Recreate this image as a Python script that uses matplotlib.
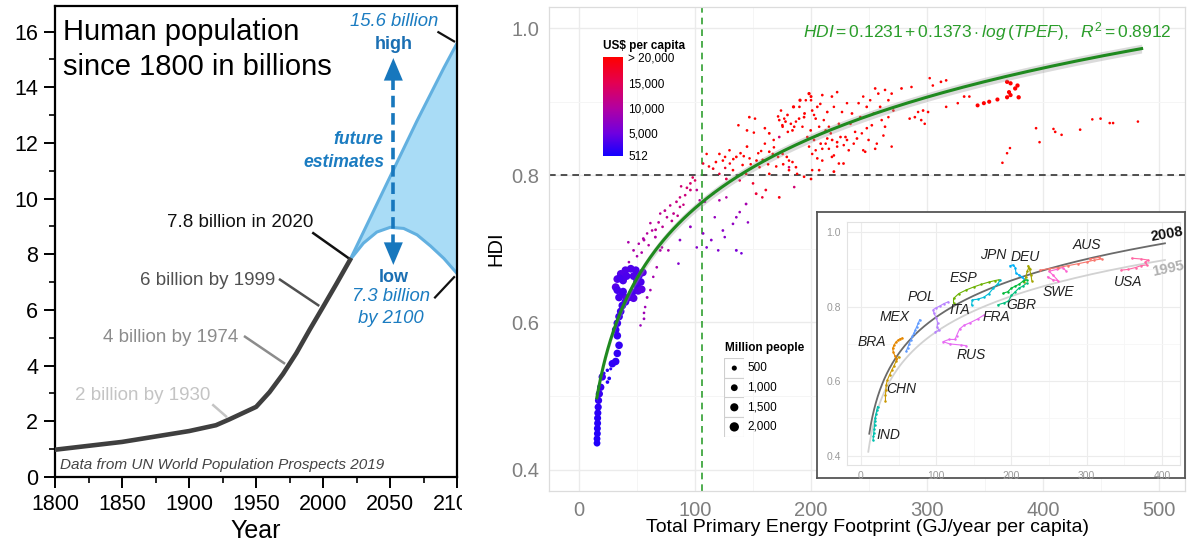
import numpy as np
import matplotlib
matplotlib.use("Agg")
import matplotlib.pyplot as plt
from matplotlib.colors import LinearSegmentedColormap, Normalize
from matplotlib.patches import Rectangle

plt.rcParams['font.family'] = ['Liberation Sans', 'DejaVu Sans']
plt.rcParams['mathtext.fontset'] = 'custom'
plt.rcParams['mathtext.rm'] = 'Liberation Sans'
plt.rcParams['mathtext.it'] = 'Liberation Sans:italic'

W, H = 1192, 550

### LEFT PANEL DATA (world population, billions)
hist_years = [1800, 1850, 1900, 1920, 1930, 1950, 1960, 1970, 1980, 1990, 2000, 2010, 2020]
hist_pop = [0.98, 1.26, 1.65, 1.86, 2.07, 2.52, 3.05, 3.7, 4.45, 5.3, 6.12, 6.95, 7.8]
proj_years = [2020, 2030, 2040, 2050, 2060, 2070, 2080, 2090, 2100]
proj_high = [7.8, 8.8, 9.8, 10.8, 11.8, 12.8, 13.75, 14.7, 15.6]
proj_low = [7.8, 8.4, 8.8, 8.97, 8.93, 8.7, 8.3, 7.85, 7.3]

### RIGHT PANEL DATA (TPEF GJ/yr per capita, HDI, GDP US$ per capita, population millions)
india_x = [15.5, 15.5, 15.8, 15.8, 16.0, 16.0, 16.2, 16.5, 16.8, 17.5, 18.7, 20.0]
india_y = [0.436, 0.442, 0.449, 0.456, 0.463, 0.470, 0.477, 0.485, 0.494, 0.503, 0.512, 0.526]
india_gdp = [1100, 1150, 1200, 1300, 1400, 1500, 1650, 1800, 2000, 2200, 2400, 2700]
india_pop = [1000, 1010, 1030, 1050, 1070, 1090, 1110, 1130, 1150, 1170, 1190, 1210]

china_x = [21.5, 24.4, 27.3, 26.0, 24.5, 28.7, 31.6, 33.0, 34.5, 33.0,
           31.6, 33.0, 34.5, 35.9, 37.3, 40.0, 43.0, 46.0, 50.3, 53.2,
           51.7, 48.9, 44.6, 40.0, 36.0, 33.0, 31.6, 33.0, 34.5, 37.3,
           38.0, 41.0, 47.0, 50.0, 51.0, 47.0, 41.0, 38.0, 35.0, 55.0,
           54.0]
china_y = [0.531, 0.535, 0.537, 0.524, 0.519, 0.544, 0.547, 0.558, 0.569, 0.582,
           0.590, 0.599, 0.608, 0.615, 0.623, 0.628, 0.634, 0.641, 0.648, 0.655,
           0.664, 0.671, 0.673, 0.671, 0.666, 0.659, 0.648, 0.644, 0.634, 0.639,
           0.657, 0.663, 0.663, 0.656, 0.643, 0.633, 0.633, 0.642, 0.660, 0.668,
           0.645]
china_gdp = [1600, 1700, 1800, 1600, 1500, 1800, 1900, 2000, 2100, 2200,
             2300, 2400, 2500, 2500, 2600, 2700, 2800, 2900, 3000, 3100,
             3200, 3300, 3400, 3500, 3600, 3700, 3800, 2900, 3000, 3100,
             3200, 3300, 3400, 3500, 3600, 3700, 3800, 2800, 2900, 3900,
             4000]
china_pop = [120, 150, 90, 200, 180, 1250, 1260, 1270, 1280, 1290,
             1300, 1300, 1310, 1310, 1320, 1320, 1330, 1330, 1340, 1340,
             1350, 1350, 1350, 1350, 1360, 1360, 1360, 1360, 1360, 1360,
             1330, 1330, 1340, 1340, 1340, 1350, 1350, 1300, 1300, 1340,
             1340]

mid_x = [43.0, 47.0, 51.5, 56.0, 63.0, 68.6, 70.0, 74.0, 78.6, 84.0,
         87.0, 91.5, 96.0, 100.0, 96.0, 58.7, 65.8, 71.5, 77.0, 61.5,
         75.8, 81.5, 87.0, 70.0, 67.0, 64.0, 61.5, 58.7, 57.0, 56.0,
         56.0, 53.0, 42.5, 55.4, 50.0, 54.0, 60.0, 66.0, 72.0, 80.0,
         85.0, 90.0, 93.0, 98.0, 88.0,
         87.0, 85.7, 96.0, 101.5, 107.0, 110.0, 114.0, 117.0, 120.0, 124.0,
         125.6, 132.7, 135.6, 138.5, 144.0, 145.6, 135.6, 140.0, 108.5, 104.0,
         101.5, 115.6, 121.0, 127.0,
         185.5, 181.0, 172.6]
mid_y = [0.682, 0.698, 0.707, 0.712, 0.725, 0.736, 0.748, 0.752, 0.759, 0.764,
         0.770, 0.773, 0.789, 0.793, 0.780, 0.721, 0.716, 0.702, 0.698, 0.735,
         0.743, 0.748, 0.757, 0.698, 0.675, 0.662, 0.644, 0.634, 0.621, 0.613,
         0.605, 0.596, 0.709, 0.714, 0.690, 0.695, 0.705, 0.726, 0.730, 0.738,
         0.745, 0.760, 0.783, 0.797, 0.785,
         0.712, 0.680, 0.730, 0.702, 0.721, 0.702, 0.712, 0.743, 0.698, 0.725,
         0.716, 0.734, 0.743, 0.750, 0.761, 0.736, 0.698, 0.694, 0.764, 0.766,
         0.780, 0.775, 0.766, 0.770,
         0.784, 0.811, 0.852]
mid_gdp = [9000, 9500, 9700, 10000, 10500, 10700, 11000, 11300, 11500, 12000,
           12300, 12500, 13500, 14000, 13000, 10300, 10100, 9900, 9800, 10600,
           11100, 11400, 11900, 9500, 9300, 9100, 8900, 8700, 8500, 8500,
           8300, 8100, 9300, 9700, 9400, 9600, 10200, 10800, 10900, 11200,
           11700, 12100, 13300, 14300, 12700,
           7000, 6500, 7500, 6700, 7300, 6300, 6900, 7700, 6100, 7100,
           6700, 7500, 7900, 8300, 9000, 7400, 5700, 5500, 9500, 10000,
           11000, 10300, 9700, 10100,
           13000, 14000, 13500]
mid_pop = [30, 45, 25, 60, 35, 40, 20, 55, 30, 45,
           25, 35, 40, 30, 50, 20, 65, 30, 40, 25,
           35, 45, 30, 55, 40, 20, 35, 60, 25, 30,
           45, 20, 35, 50, 30, 40, 25, 55, 35, 45,
           30, 20, 40, 35, 25,
           45, 30, 60, 25, 40, 35, 50, 20, 30, 45,
           25, 35, 40, 30, 55, 20, 65, 30, 45, 25,
           35, 40, 30, 20,
           30, 25, 40]

rich_x = [107, 115.6, 121, 124, 127, 130, 132.7, 135.6, 138.5, 141,
          144, 147, 150, 152.7, 155.6, 158, 161, 160, 164, 167,
          181, 184, 172.6, 110, 121, 146.8, 151.7, 137.4, 144.8, 150.7,
          160.2, 164, 167.8, 171.6, 175.3, 160.2, 144.8, 129.7, 125.9, 139.2,
          154.5, 164, 158.3, 171.6, 179.1, 184.9, 190.5, 198.3, 194.4, 200,
          172.6, 175.5, 178, 180, 184, 187, 190, 194, 195.5, 200,
          201, 202.6, 204, 205.4, 207, 208, 209.7, 211, 212.6, 214,
          215.4, 217, 218, 219.7, 222.5, 222.5, 224, 226.7, 229.7, 231,
          234, 235.3, 238, 241, 242.5, 245, 246.7, 248, 251, 254,
          255.3, 256.7, 258, 259.6, 262.4, 263.8, 266.7, 269.5, 269.5, 278,
          286.6, 285, 289.5, 292.3, 295, 296.6, 298, 300.9, 302.3, 305,
          312, 316.5, 316.5, 326.5, 332, 336.5, 343.6, 349, 353.6, 360.7,
          175.5, 181, 187, 188, 194, 200, 201, 209.7, 212.6, 218,
          219.7, 224, 228, 201, 205.4, 207, 245, 255.3, 369, 372,
          370.7, 372, 369, 376, 378, 379, 394, 397, 409, 410.5,
          416, 432, 442.5, 449.6, 457.5, 460.4, 481.8, 371.5, 369, 365]
rich_y = [0.816, 0.809, 0.802, 0.820, 0.795, 0.816, 0.807, 0.825, 0.793, 0.814,
          0.802, 0.823, 0.789, 0.775, 0.811, 0.770, 0.780, 0.820, 0.802, 0.829,
          0.807, 0.818, 0.770, 0.829, 0.829, 0.879, 0.877, 0.868, 0.861, 0.858,
          0.864, 0.857, 0.848, 0.880, 0.868, 0.843, 0.839, 0.834, 0.825, 0.830,
          0.830, 0.832, 0.821, 0.825, 0.825, 0.893, 0.902, 0.911, 0.884, 0.907,
          0.875, 0.866, 0.873, 0.859, 0.861, 0.873, 0.893, 0.879, 0.902, 0.902,
          0.888, 0.882, 0.877, 0.893, 0.866, 0.897, 0.909, 0.875, 0.861, 0.886,
          0.866, 0.857, 0.907, 0.893, 0.913, 0.845, 0.870, 0.886, 0.852, 0.898,
          0.870, 0.884, 0.859, 0.898, 0.879, 0.907, 0.832, 0.893, 0.902, 0.884,
          0.918, 0.843, 0.911, 0.893, 0.854, 0.916, 0.902, 0.839, 0.911, 0.918,
          0.920, 0.877, 0.879, 0.886, 0.875, 0.888, 0.870, 0.886, 0.932, 0.922,
          0.927, 0.929, 0.893, 0.898, 0.907, 0.907, 0.895, 0.898, 0.900, 0.903,
          0.829, 0.820, 0.811, 0.802, 0.798, 0.795, 0.807, 0.820, 0.843, 0.825,
          0.805, 0.816, 0.816, 0.829, 0.823, 0.807, 0.834, 0.836, 0.927, 0.925,
          0.913, 0.909, 0.906, 0.918, 0.922, 0.906, 0.864, 0.845, 0.863, 0.859,
          0.855, 0.862, 0.876, 0.877, 0.871, 0.871, 0.873, 0.837, 0.830, 0.817]
rich_gdp = [17000, 18500, 16500, 21000, 15500, 19000, 20000, 22000, 16000, 21500,
            19500, 23000, 17500, 16500, 22500, 17000, 18000, 24000, 21000, 26000,
            25000, 27000, 19000, 20500, 23500, 28000, 30000, 26000, 24000, 25500,
            27000, 29000, 31000, 33000, 30000, 26000, 24500, 23000, 22000, 25000,
            27500, 28500, 26500, 29500, 31500, 34000, 36000, 38000, 35000, 37000,
            30000, 31000, 32000, 29000, 33000, 34000, 36000, 35000, 38000, 39000,
            37000, 36000, 34000, 38000, 33000, 39000, 41000, 35000, 32000, 37000,
            33000, 31000, 40000, 38000, 42000, 30000, 35000, 37000, 32000, 39000,
            35000, 37000, 33000, 40000, 36000, 41000, 29000, 38000, 40000, 37000,
            43000, 31000, 42000, 38000, 33000, 44000, 40000, 30000, 42000, 45000,
            46000, 36000, 37000, 39000, 35000, 38000, 34000, 39000, 48000, 45000,
            47000, 48000, 40000, 41000, 43000, 43500, 42000, 43000, 44000, 45000,
            26000, 25000, 24000, 23000, 22000, 21500, 25500, 27000, 30000, 26000,
            24000, 27000, 28000, 28500, 27500, 25000, 29000, 30000, 46000, 47000,
            45000, 44000, 43000, 48000, 49000, 44500, 33000, 31000, 34000, 33500,
            32000, 35000, 38000, 39000, 37000, 37500, 38000, 30000, 29000, 28000]
rich_pop = [25, 40, 15, 30, 55, 20, 35, 45, 25, 30,
            40, 20, 35, 60, 25, 30, 45, 20, 35, 25,
            40, 30, 50, 20, 35, 45, 25, 30, 40, 20,
            35, 55, 25, 30, 40, 20, 45, 30, 25, 35,
            20, 40, 30, 25, 35, 120, 125, 127, 60, 80,
            35, 25, 40, 30, 45, 20, 35, 55, 25, 30,
            40, 20, 35, 45, 25, 30, 40, 20, 35, 45,
            25, 30, 40, 20, 35, 45, 25, 30, 40, 20,
            35, 45, 25, 30, 40, 20, 35, 45, 25, 30,
            40, 20, 35, 45, 25, 30, 40, 20, 35, 45,
            25, 30, 40, 20, 35, 45, 25, 30, 20, 25,
            40, 35, 30, 25, 45, 30, 260, 270, 275, 280,
            30, 25, 40, 20, 35, 45, 25, 30, 20, 35,
            60, 30, 45, 20, 35, 40, 25, 30, 300, 305,
            290, 295, 285, 310, 315, 320, 30, 25, 20, 35,
            25, 30, 20, 35, 25, 30, 20, 15, 20, 25]

# second batch of high-income points (dense area 100-270 GJ)
rich2_x = [174.1, 176.9, 179.7, 182.6, 185.5, 189.7, 192.6, 196.8, 198.3, 199.7,
           202.6, 204.0, 205.4, 208.3, 209.7, 214.0, 215.4, 218.2, 219.7, 222.5,
           225.4, 228.2, 231.0, 232.5, 236.8, 239.6, 243.8, 248.1, 249.6, 252.4,
           260.9, 263.8, 266.7, 271.0, 112.0, 118.0, 126.0, 133.0, 142.0, 148.0,
           153.0, 157.0, 163.0, 168.0, 170.0, 176.0]
rich2_y = [0.888, 0.877, 0.882, 0.870, 0.866, 0.877, 0.866, 0.852, 0.839, 0.861,
           0.848, 0.834, 0.854, 0.843, 0.836, 0.850, 0.836, 0.848, 0.827, 0.839,
           0.852, 0.841, 0.848, 0.834, 0.843, 0.850, 0.857, 0.864, 0.848, 0.868,
           0.875, 0.866, 0.879, 0.888, 0.812, 0.818, 0.810, 0.822, 0.826, 0.815,
           0.820, 0.833, 0.815, 0.838, 0.812, 0.815]
rich2_gdp = [30000, 32000, 28000, 34000, 31000, 36000, 29000, 33000, 27000, 35000,
             30000, 28000, 34000, 31000, 29000, 33000, 30000, 32000, 27000, 31000,
             34000, 30000, 33000, 28000, 32000, 35000, 36000, 38000, 31000, 37000,
             40000, 38000, 41000, 42000, 19000, 21000, 18000, 22000, 24000, 20000,
             23000, 25000, 21000, 26000, 22000, 24000]
rich2_pop = [30, 20, 45, 25, 35, 40, 20, 30, 25, 45,
             35, 20, 30, 40, 25, 35, 20, 45, 30, 25,
             40, 20, 35, 30, 25, 45, 20, 35, 30, 40,
             25, 35, 20, 30, 25, 40, 20, 35, 30, 25,
             45, 20, 35, 25, 30, 40]

# log fit printed on the chart, confidence band half-width
fit_intercept = 0.1231
fit_slope = 0.1373
fit_range = [15.3, 485]
fit_se = 0.006
hdi_threshold = 0.8
tpef_threshold = 106

cbar_ticks = [512, 5000, 10000, 15000, 20000]
cbar_labels = ['512', '5,000', '10,000', '15,000', '> 20,000']
legend_pops = [500, 1000, 1500, 2000]
legend_labels = ['500', '1,000', '1,500', '2,000']

### INSET DATA (country trajectories 1995-2008)
inset_codes = ['IND', 'CHN', 'BRA', 'MEX', 'POL', 'ESP', 'ITA', 'JPN', 'DEU', 'GBR',
               'FRA', 'SWE', 'AUS', 'USA', 'RUS']
inset_x = [[16, 16.5, 17, 17.5, 18, 18.5, 19, 20, 21, 22],
           [32.5, 32.5, 33, 33.5, 35, 38, 41, 44, 47, 50],
           [47, 45, 43, 42, 44, 46, 49, 52, 55],
           [60, 62, 64, 66, 68, 70, 72, 74, 76, 78],
           [99, 104, 101, 102, 100, 97, 96, 100, 105, 110, 116],
           [123, 123, 130, 140, 150, 160, 170, 178, 183],
           [147, 148, 155, 163, 170, 176, 182, 185],
           [198, 202, 205, 206, 210, 214, 216],
           [217, 219, 221, 223, 222, 224, 226, 227],
           [182, 190, 196, 200, 205, 210, 215, 220],
           [189, 195, 200, 205, 210, 215, 220],
           [248, 255, 262, 255, 250, 260, 268, 272],
           [238, 250, 262, 275, 288, 300, 310, 320, 316, 304],
           [346, 355, 365, 372, 380, 378, 382, 372, 360],
           [140, 133, 118, 109, 117, 125, 127, 131, 137, 145, 155, 163]]
inset_y = [[0.442, 0.452, 0.462, 0.472, 0.482, 0.492, 0.502, 0.512, 0.522, 0.532],
           [0.548, 0.562, 0.576, 0.59, 0.603, 0.617, 0.63, 0.642, 0.655, 0.665],
           [0.66, 0.668, 0.678, 0.688, 0.697, 0.704, 0.71, 0.714, 0.716],
           [0.68, 0.69, 0.70, 0.71, 0.72, 0.728, 0.737, 0.746, 0.755, 0.765],
           [0.733, 0.736, 0.745, 0.757, 0.77, 0.782, 0.792, 0.797, 0.802, 0.808, 0.813],
           [0.81, 0.822, 0.835, 0.845, 0.853, 0.86, 0.866, 0.87, 0.872],
           [0.805, 0.818, 0.82, 0.825, 0.835, 0.85, 0.862, 0.871],
           [0.91, 0.912, 0.905, 0.89, 0.885, 0.88, 0.875],
           [0.865, 0.88, 0.895, 0.905, 0.91, 0.90, 0.885, 0.87],
           [0.805, 0.81, 0.815, 0.83, 0.84, 0.85, 0.855, 0.863],
           [0.836, 0.84, 0.85, 0.855, 0.86, 0.868, 0.872],
           [0.88, 0.872, 0.87, 0.885, 0.895, 0.90, 0.905, 0.897],
           [0.898, 0.902, 0.905, 0.91, 0.915, 0.92, 0.925, 0.928, 0.932, 0.928],
           [0.898, 0.90, 0.905, 0.91, 0.912, 0.92, 0.925, 0.928, 0.93],
           [0.695, 0.697, 0.70, 0.706, 0.712, 0.712, 0.722, 0.74, 0.75, 0.757, 0.767, 0.777]]
inset_colors = ['#00C0AF', '#C99800', '#E58700', '#619CFF', '#B983FF', '#6BB100', '#00BCD8',
                '#00B0F6', '#A3A500', '#00BF7D', '#00BA38', '#FD61D1', '#F8766D', '#FF67A4', '#E76BF3']
inset_label_x = [36.3, 54, 14.2, 45.2, 80.6, 135.9, 131.5, 175.7, 217.8, 213.4, 180.2, 262, 299.7, 355, 147]
inset_label_y = [0.456, 0.578, 0.706, 0.773, 0.827, 0.877, 0.791, 0.939, 0.934, 0.805, 0.772, 0.84, 0.966, 0.865, 0.67]
# year fits in the inset: (intercept, slope, x range)
fit2008 = (0.119, 0.1418, [11, 404])
fit1995 = (0.097, 0.138, [9.7, 404])


def px_rect(x0, y0, x1, y1):
    # pixel box (top-left origin) -> figure fraction rect
    return [x0 / W, 1 - y1 / H, (x1 - x0) / W, (y1 - y0) / H]


def pop_to_size(p):
    return 3 + 0.021 * np.asarray(p, dtype=float)


fig = plt.figure(figsize=(W / 100, H / 100), dpi=100)

### LEFT PANEL
axL = fig.add_axes(px_rect(55, 6.3, 457.3, 477))
axL.fill_between(proj_years, proj_low, proj_high, color='#a9dcf6', lw=0, zorder=1)
axL.plot(proj_years, proj_high, color='#62b0e0', lw=2.2, zorder=2)
axL.plot(proj_years, proj_low, color='#62b0e0', lw=2.2, zorder=2)
axL.plot(hist_years, hist_pop, color='#3f3f3f', lw=3.3, zorder=3, solid_joinstyle='round')
axL.set_xlim(1800, 2100)
axL.set_ylim(0, 16.91)
axL.set_xticks(range(1800, 2101, 50))
axL.set_xticks(range(1825, 2100, 50), minor=True)
axL.set_yticks(range(0, 17, 2))
axL.set_yticks(range(1, 17, 2), minor=True)
axL.tick_params(which='major', direction='out', length=8, width=1.4, labelsize=15.5, pad=4)
axL.tick_params(which='minor', direction='out', length=4.5, width=1.2)
for sp in axL.spines.values():
    sp.set_linewidth(1.6)
axL.set_xlabel('Year', fontsize=18, labelpad=3)

axL.text(1806.2, 16.0, 'Human population', fontsize=21, va='center', ha='left')
axL.text(1806.2, 14.74, 'since 1800 in billions', fontsize=21, va='center', ha='left')

axL.text(1992.6, 9.13, '7.8 billion in 2020', fontsize=13.5, color='#111111', ha='right', va='center')
axL.plot([1992.6, 2018.7], [8.76, 7.87], color='#111111', lw=1.8)
axL.text(1964.1, 7.05, '6 billion by 1999', fontsize=13.5, color='#505050', ha='right', va='center')
axL.plot([1967.8, 1996.3], [7.09, 6.17], color='#505050', lw=1.8)
axL.text(1936.7, 5.01, '4 billion by 1974', fontsize=13.5, color='#8c8c8c', ha='right', va='center')
axL.plot([1941.7, 1970.8], [5.04, 4.09], color='#8c8c8c', lw=1.8)
axL.text(1916.1, 2.92, '2 billion by 1930', fontsize=13.5, color='#c4c4c4', ha='right', va='center')
axL.plot([1918.0, 1927.5], [2.58, 2.18], color='#c4c4c4', lw=1.8)
axL.text(1803.7, 0.44, 'Data from UN World Population Prospects 2019', fontsize=11,
         style='italic', color='#444444', ha='left', va='center')

blue = '#1b7cc1'
axL.text(2052.9, 16.38, '15.6 billion', fontsize=13.3, style='italic', color=blue, ha='center', va='center')
axL.text(2052.9, 15.52, 'high', fontsize=13, weight='bold', color='#1a6fb3', ha='center', va='center')
axL.plot([2085.9, 2097.6], [15.98, 15.65], color='#111111', lw=1.6)
axL.text(2044.6, 12.13, 'future', fontsize=12.7, weight='bold', style='italic', color=blue, ha='right', va='center')
axL.text(2045.5, 11.31, 'estimates', fontsize=12.7, weight='bold', style='italic', color=blue, ha='right', va='center')
axL.plot([2052.3, 2052.3], [8.3, 14.4], color='#1777bd', lw=2.6, ls=(0, (3.2, 1.6)))
for tip, tail in [(15.05, 14.0), (7.62, 8.7)]:
    axL.annotate('', xy=(2052.3, tip), xytext=(2052.3, tail),
                 arrowprops=dict(arrowstyle='-|>,head_length=0.9,head_width=0.38',
                                 color='#1777bd', lw=0.01, mutation_scale=18, shrinkA=0, shrinkB=0))
axL.text(2052.3, 7.18, 'low', fontsize=13, weight='bold', color='#1a6fb3', ha='center', va='center')
axL.text(2050.3, 6.49, '7.3 billion', fontsize=13.3, style='italic', color=blue, ha='center', va='center')
axL.text(2050.3, 5.69, 'by 2100', fontsize=13.3, style='italic', color=blue, ha='center', va='center')
axL.plot([2083.4, 2097.6], [6.45, 7.18], color='#111111', lw=1.6)

# the original left image is cropped just right of its frame, cutting the "2100" label
fig.add_artist(Rectangle((462 / W, 0), 24 / W, 0.2, transform=fig.transFigure,
                         facecolor='white', edgecolor='none', zorder=10))

### RIGHT PANEL
cmap = LinearSegmentedColormap.from_list(
    'gdp', [(0, '#1400ff'), (0.23, '#7000e0'), (0.49, '#b400a0'), (0.74, '#e40052'), (1, '#ff0000')])
norm = Normalize(512, 20000)

axR = fig.add_axes(px_rect(549, 7, 1185, 491))
axR.set_xlim(-25.9, 522.4)
axR.set_ylim(0.371, 1.0287)
axR.set_xticks([0, 100, 200, 300, 400, 500])
axR.set_xticks([50, 150, 250, 350, 450], minor=True)
axR.set_yticks([0.4, 0.6, 0.8, 1.0], ['0.4', '0.6', '0.8', '1.0'])
axR.set_yticks([0.5, 0.7, 0.9], minor=True)
axR.grid(which='major', color='#ebebeb', lw=1.0)
axR.grid(which='minor', color='#f5f5f5', lw=0.7)
axR.set_axisbelow(True)
axR.tick_params(which='both', length=0, labelsize=14.5, labelcolor='#7f7f7f', pad=7)
for sp in axR.spines.values():
    sp.set_color('#dcdcdc')
    sp.set_linewidth(0.9)
axR.set_xlabel('Total Primary Energy Footprint (GJ/year per capita)', fontsize=14)
axR.xaxis.set_label_coords(0.5, -0.058)
axR.set_ylabel('HDI', fontsize=14.5)
axR.yaxis.set_label_coords(-0.069, 0.5)

axR.axhline(hdi_threshold, color='#333333', lw=1.2, ls=(0, (4, 3)), zorder=2)
axR.axvline(tpef_threshold, color='#30a030', lw=1.2, ls=(0, (4, 3)), zorder=2)

for gx, gy, gg, gp in [(mid_x, mid_y, mid_gdp, mid_pop), (rich_x, rich_y, rich_gdp, rich_pop),
                       (rich2_x, rich2_y, rich2_gdp, rich2_pop),
                       (china_x, china_y, china_gdp, china_pop), (india_x, india_y, india_gdp, india_pop)]:
    axR.scatter(gx, gy, s=pop_to_size(gp), c=gg, cmap=cmap, norm=norm, edgecolors='none', zorder=3)

fit_x = np.geomspace(fit_range[0], fit_range[1], 200)
fit_y = fit_intercept + fit_slope * np.log(fit_x)
axR.fill_between(fit_x, fit_y - fit_se, fit_y + fit_se, color='#9a9a9a', alpha=0.35, lw=0, zorder=4)
axR.plot(fit_x, fit_y, color='#1f8a1f', lw=2.2, zorder=5)
axR.text(352, 0.995, r'$HDI = 0.1231 + 0.1373 \cdot log\,(TPEF),\ \ R^2 = 0.8912$',
         color='#2a9d2a', fontsize=12.5, ha='center', va='center', zorder=6)

# colour bar legend
axC = fig.add_axes(px_rect(602.7, 57.3, 622.7, 156))
grad = np.linspace(512, 20000, 256).reshape(-1, 1)
axC.imshow(grad, aspect='auto', cmap=cmap, norm=norm, origin='lower', extent=(0, 1, 512, 20000))
axC.set_xticks([])
axC.yaxis.tick_right()
axC.set_yticks(cbar_ticks, cbar_labels)
axC.tick_params(length=0, labelsize=8.5, pad=4)
for sp in axC.spines.values():
    sp.set_visible(False)
axC.set_title(r'US\$ per capita', loc='left', fontsize=8.5, fontweight='bold', pad=6)

# size legend
axS = fig.add_axes(px_rect(724.3, 358.3, 744.3, 436.7))
axS.set_xlim(0, 1)
axS.set_ylim(4, 0)
axS.axis('off')
for i in range(4):
    axS.add_patch(Rectangle((0, i), 1, 1, facecolor='white', edgecolor='#cfcfcf', lw=0.8))
axS.scatter([0.5] * 4, [i + 0.5 for i in range(4)], s=pop_to_size(legend_pops), color='black',
            edgecolors='none', zorder=3)
for i, lab in enumerate(legend_labels):
    axS.text(1.15, i + 0.5, lab, fontsize=8.5, ha='left', va='center')
axS.text(0.03, -0.5, 'Million people', fontsize=8.5, weight='bold', ha='left', va='center')

### INSET
axB = fig.add_axes(px_rect(817, 212, 1185, 478))
axB.set_xticks([])
axB.set_yticks([])
for sp in axB.spines.values():
    sp.set_color('#555555')
    sp.set_linewidth(1.3)

axI = fig.add_axes(px_rect(846.7, 221.7, 1180, 465))
axI.set_xlim(-19, 424)
axI.set_ylim(0.375, 1.028)
axI.set_xticks([0, 100, 200, 300, 400])
axI.set_xticks([50, 150, 250, 350], minor=True)
axI.set_yticks([0.4, 0.6, 0.8, 1.0], ['0.4', '0.6', '0.8', '1.0'])
axI.set_yticks([0.5, 0.7, 0.9], minor=True)
axI.grid(which='major', color='#ececec', lw=0.8)
axI.grid(which='minor', color='#f6f6f6', lw=0.6)
axI.set_axisbelow(True)
axI.tick_params(which='both', length=0, labelsize=7.5, labelcolor='#9a9a9a', pad=4)
for sp in axI.spines.values():
    sp.set_color('#e2e2e2')
    sp.set_linewidth(0.8)

for (a, b, rng), col in [(fit1995, '#d2d2d2'), (fit2008, '#6a6a6a')]:
    cx = np.geomspace(rng[0], rng[1], 150)
    axI.plot(cx, a + b * np.log(cx), color=col, lw=1.3, zorder=2)
for xs, ys, col in zip(inset_x, inset_y, inset_colors):
    axI.plot(xs, ys, color=col, lw=0.8, marker='o', ms=1.8, mew=0, zorder=3)
for code, lx, ly in zip(inset_codes, inset_label_x, inset_label_y):
    axI.text(lx, ly, code, fontsize=10, style='italic', color='#222222',
             ha='center', va='center', zorder=4)
axI.text(406, 0.995, '2008', fontsize=10.5, weight='bold', color='#111111', rotation=10,
         ha='center', va='center')
axI.text(408, 0.903, '1995', fontsize=10.5, weight='bold', color='#b0b0b0', rotation=12,
         ha='center', va='center')

fig.savefig('out.png', dpi=100)
